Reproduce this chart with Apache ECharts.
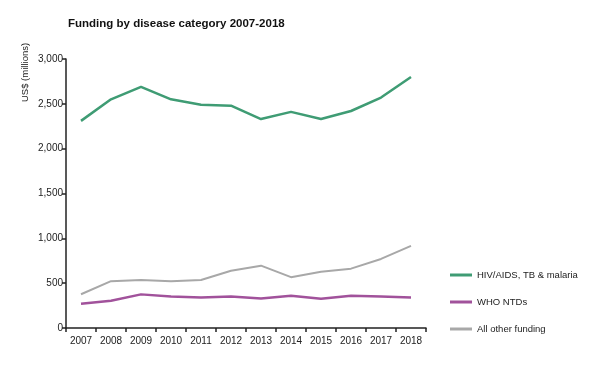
<!DOCTYPE html>
<html>
<head>
<meta charset="utf-8">
<script src="https://cdn.jsdelivr.net/npm/echarts@6/dist/echarts.min.js"></script>
<style>
html,body{margin:0;padding:0;background:#fff;}
#chart{width:595px;height:371px;}
</style>
</head>
<body>
<div id="chart"></div>
<script>
const years = ['2007','2008','2009','2010','2011','2012','2013','2014','2015','2016','2017','2018'];
const hivTbMalaria = [2310, 2550, 2690, 2550, 2490, 2480, 2330, 2410, 2330, 2420, 2570, 2800];
const whoNtds = [270, 305, 375, 350, 340, 352, 328, 360, 327, 360, 350, 340];
const allOther = [376, 522, 535, 522, 535, 638, 695, 567, 628, 662, 770, 915];
const seriesNames = ['HIV/AIDS, TB & malaria', 'WHO NTDs', 'All other funding'];
const colors = ['#3f9c74', '#a1529b', '#a8a8a8'];

const chart = echarts.init(document.getElementById('chart'), null, {renderer: 'canvas'});
const fontFam = '"Liberation Sans", Arial, sans-serif';
chart.setOption({
  animation: false,
  backgroundColor: '#ffffff',
  title: {
    text: 'Funding by disease category 2007-2018',
    left: 63, top: 13,
    textStyle: {fontFamily: fontFam, fontSize: 11.5, fontWeight: 'bold', color: '#111'}
  },
  graphic: [{
    type: 'text',
    x: 20, y: 102,
    rotation: Math.PI / 2,
    style: {text: 'US$ (millions)', fontFamily: fontFam, fontSize: 9.5, fill: '#222', textAlign: 'left', textVerticalAlign: 'top'}
  }],
  legend: {
    orient: 'vertical',
    left: 445, top: 265,
    itemWidth: 22, itemHeight: 3,
    itemGap: 17,
    icon: 'rect',
    textStyle: {fontFamily: fontFam, fontSize: 9.5, color: '#222'},
    data: seriesNames
  },
  grid: {left: 66, right: 169, top: 59, bottom: 43, containLabel: false},
  xAxis: {
    type: 'category',
    data: years,
    boundaryGap: true,
    axisLine: {lineStyle: {color: '#222', width: 1.5}},
    axisTick: {show: true, length: 4, lineStyle: {color: '#222', width: 1.5}},
    axisLabel: {fontFamily: fontFam, fontSize: 10, color: '#222', margin: 8, interval: 0}
  },
  yAxis: {
    type: 'value',
    min: 0, max: 3000, interval: 500,
    axisLine: {show: true, lineStyle: {color: '#222', width: 1.5}},
    axisTick: {show: true, length: 4, lineStyle: {color: '#222', width: 1.5}},
    splitLine: {show: false},
    axisLabel: {
      fontFamily: fontFam, fontSize: 10, color: '#222', margin: 3,
      formatter: v => v.toLocaleString('en-US')
    }
  },
  series: [
    {name: seriesNames[0], type: 'line', data: hivTbMalaria, symbol: 'none', color: colors[0], lineStyle: {width: 2.5, color: colors[0]}},
    {name: seriesNames[1], type: 'line', data: whoNtds, symbol: 'none', color: colors[1], lineStyle: {width: 2.5, color: colors[1]}},
    {name: seriesNames[2], type: 'line', data: allOther, symbol: 'none', color: colors[2], lineStyle: {width: 2, color: colors[2]}}
  ]
});
</script>
</body>
</html>
